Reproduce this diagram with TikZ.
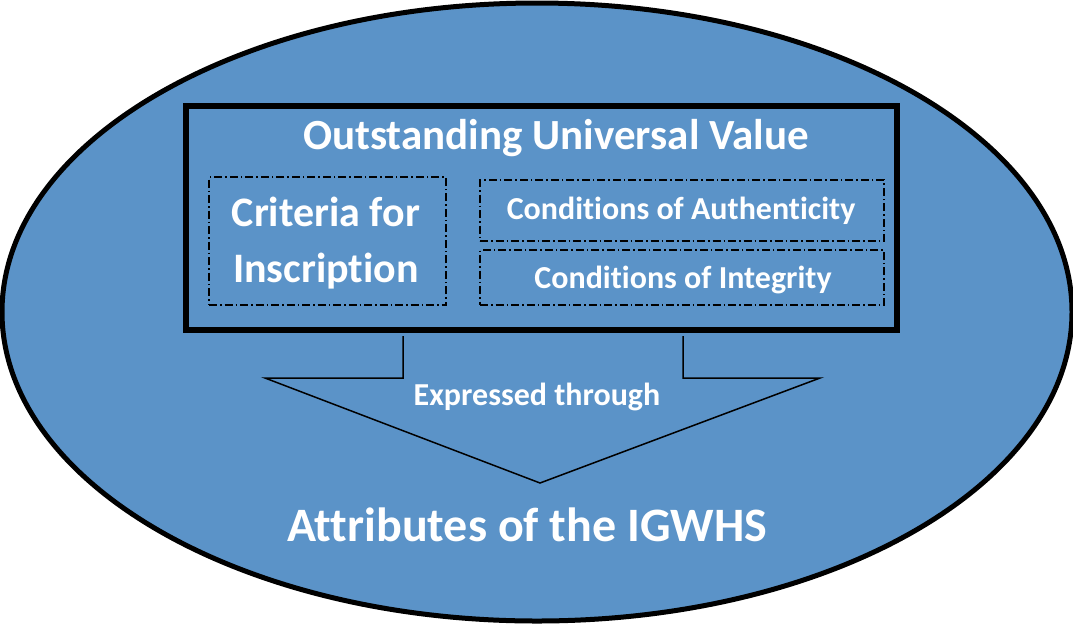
\documentclass[tikz,border=0pt]{standalone}
\usepackage{fontspec}
\setmainfont{Carlito}[Ligatures=NoCommon]
\definecolor{ouvblue}{RGB}{91,147,200}
\tikzset{
  wtext/.style={text=white, font=\bfseries, align=center, inner sep=0pt},
  dashbox/.style={draw=black, line width=1.3pt, dash pattern=on 8pt off 3pt on 1.5pt off 3pt, minimum width=404pt},
}
\begin{document}
\begin{tikzpicture}[x=1pt,y=-1pt]
  \useasboundingbox (0,0) rectangle (1073,625);
  \fill[white] (0,0) rectangle (1073,625);
  % outer ellipse
  \draw[fill=ouvblue, line width=5pt] (537,312) ellipse [x radius=535, y radius=309];
  % OUV box
  \node[draw=black, line width=6pt, minimum width=711pt, minimum height=224pt] (ouv) at (541.5,218) {};
  \node[wtext, font=\bfseries\fontsize{43}{46}\selectfont] (title) at (556,138) {Outstanding Universal Value};
  \node[dashbox, minimum width=237pt, minimum height=128pt] (crit) at (327.5,241) {};
  \node[dashbox, minimum height=61pt] (auth) at (682,210.5) {};
  \node[dashbox, minimum height=55pt] (integ) at (682,277.5) {};
  \node[wtext, font=\bfseries\fontsize{42}{56}\selectfont] at (326,243) {Criteria for\\Inscription};
  \node[wtext, font=\bfseries\fontsize{32}{34}\selectfont] at (681,211) {Conditions of Authenticity};
  \node[wtext, font=\bfseries\fontsize{32}{34}\selectfont] at (683,280) {Conditions of Integrity};
  % block arrow
  \coordinate (sl) at (403,336);
  \coordinate (sr) at (683,336);
  \coordinate (tip) at (540,483);
  \draw[line width=1.5pt, line join=miter] (sl) -- (403,378) -- (265,378) -- (tip) -- (820,378) -- (683,378) -- (sr);
  \node[wtext, font=\bfseries\fontsize{32}{34}\selectfont] (expr) at (537,397) {Expressed through};
  \node[wtext, font=\bfseries\fontsize{48}{52}\selectfont] (attr) at (527,525) {Attributes of the IGWHS};
\end{tikzpicture}
\end{document}
